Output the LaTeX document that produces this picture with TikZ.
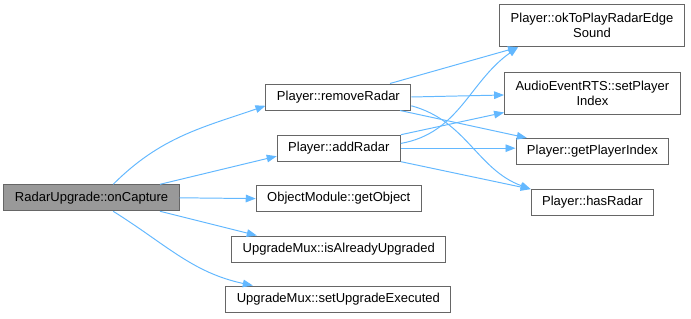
\documentclass[tikz,border=0pt]{standalone}
\usepackage{fontspec}
\setmainfont{Liberation Sans}
\usepackage{tikz}
\usetikzlibrary{arrows.meta, positioning, calc}
\definecolor{edgeblue}{RGB}{99, 184, 255}
\definecolor{boxgray}{RGB}{102, 102, 102}
\definecolor{curgray}{RGB}{153, 153, 153}

\begin{document}
\begin{tikzpicture}[
    fn/.style={rectangle, draw=boxgray, line width=0.7pt, fill=white, inner xsep=0.275cm, minimum height=0.65cm, align=center, font=\fontsize{9.25}{10.7}\selectfont, text=black},
    cur/.style={fn, fill=curgray},
    tall/.style={fn, minimum height=1.05cm},
    arrow/.style={-{Triangle[length=0.25cm, width=0.19cm]}, line width=0.7pt, color=edgeblue}
]
\useasboundingbox (0,0) rectangle (17.275, 7.975);

% Funkcja wywolujaca
\node [cur] (cap) at (2.29, 3.03) {RadarUpgrade::onCapture};

% Wywolania bezposrednie
\node [fn] (rem) at (8.46, 5.55) {Player::removeRadar};
\node [fn] (add) at (8.47, 4.27) {Player::addRadar};
\node [fn] (obj) at (8.47, 3.01) {ObjectModule::getObject};
\node [fn] (isup) at (8.47, 1.75) {UpgradeMux::isAlreadyUpgraded};
\node [fn] (setup) at (8.46, 0.50) {UpgradeMux::setUpgradeExecuted};

% Wywolania drugiego poziomu
\node [tall] (okp) at (14.80, 7.33) {Player::okToPlayRadarEdge\\Sound};
\node [tall] (spi) at (14.81, 5.65) {AudioEventRTS::setPlayer\\Index};
\node [fn] (gpi) at (14.81, 4.19) {Player::getPlayerIndex};
\node [fn] (has) at (14.81, 2.91) {Player::hasRadar};

% onCapture
\draw [arrow] ([xshift=0.54cm]cap.north) to[out=45, in=199] ([yshift=-0.22cm]rem.west);
\draw [arrow] ([xshift=1.71cm]cap.north) -- ([yshift=-0.2cm]add.west);
\draw [arrow] (cap.east) -- (obj.west);
\draw [arrow] ([xshift=1.71cm]cap.south) -- ([xshift=-2.05cm]isup.north);
\draw [arrow] ([xshift=0.54cm]cap.south) to[out=-32, in=168] ([xshift=-2.14cm]setup.north);

% removeRadar
\draw [arrow] ([xshift=1.29cm]rem.north) -- ([xshift=-1.85cm]okp.south);
\draw [arrow] (rem.east) -- ([yshift=-0.05cm]spi.west);
\draw [arrow] ([xshift=1.54cm]rem.south) -- ([xshift=-1.64cm]gpi.north);
\draw [arrow] ([yshift=-0.22cm]rem.east) to[out=-15, in=160] (has.north west);

% addRadar
\draw [arrow] ([yshift=0.12cm]add.east) to[out=10, in=215] ([xshift=-1.85cm]okp.south);
\draw [arrow] (add.north east) -- ([yshift=0.05cm]spi.south west);
\draw [arrow] (add.east) -- (add.east -| gpi.west);
\draw [arrow] (add.south east) -- (has.north west);

\end{tikzpicture}
\end{document}
